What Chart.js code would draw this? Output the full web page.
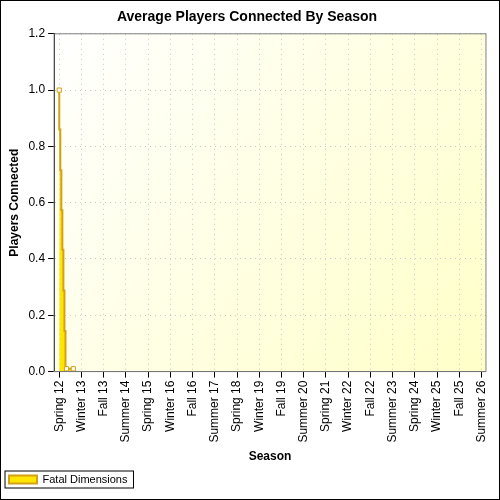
<!DOCTYPE html>
<html>
<head>
<script src="https://cdn.jsdelivr.net/npm/chart.js@4"></script>
<style>
  body { margin: 0; background: #fff; }
  #wrap { width: 498px; height: 498px; border: 1px solid #000; }
</style>
</head>
<body>
<div id="wrap"><canvas id="myChart" width="498" height="498"></canvas></div>
<script>
const years = [12,13,14,15,16,17,18,19,20,21,22,23,24,25,26];
// seasons Spring 12 .. Summer 26 (Winter takes the next year's number)
const seasons = [];
years.forEach((y) => {
  seasons.push("Spring " + y, "Summer " + y, "Fall " + y, "Winter " + (y + 1));
});
const categories = seasons.slice(0, 58);
const xPos = [0, 0.14, 0.28, 0.42, 0.56, 0.70, 0.84, 0.98, 1.9];
const players = [1.0, 0.86, 0.715, 0.573, 0.433, 0.288, 0.144, 0.01, 0.01];
const markers = [3, 0, 0, 0, 0, 0, 0, 3, 3];

const bgPlugin = {
  id: "bg",
  beforeDraw(chart) {
    const { ctx, chartArea: a } = chart;
    const g = ctx.createLinearGradient(a.left, a.top, a.right, a.bottom);
    g.addColorStop(0, "#ffffff");
    g.addColorStop(1, "#ffffc8");
    ctx.save();
    ctx.fillStyle = g;
    ctx.fillRect(a.left, a.top, a.right - a.left, a.bottom - a.top);
    ctx.restore();
  },
  afterDraw(chart) {
    const { ctx, chartArea: a, legend } = chart;
    ctx.save();
    ctx.strokeStyle = "#808080";
    ctx.strokeRect(a.left, a.top, a.right - a.left, a.bottom - a.top);
    // box around legend
    ctx.strokeStyle = "#000";
    const it = legend.legendHitBoxes[0];
    ctx.strokeRect(it.left - 4, it.top - 3, it.width + 10, it.height + 6);
    ctx.restore();
  },
};

new Chart(document.getElementById("myChart"), {
  type: "line",
  data: {
    datasets: [
      {
        label: "Fatal Dimensions",
        data: xPos.map((x, i) => ({ x: x, y: players[i] })),
        stepped: "after",
        fill: "origin",
        backgroundColor: "#ffe600",
        borderColor: "#d4a017",
        borderWidth: 2,
        pointStyle: "rect",
        pointRadius: markers,
        pointBackgroundColor: "#ffffff",
        pointBorderColor: "#d4a017",
        pointBorderWidth: 1,
      },
    ],
  },
  plugins: [bgPlugin],
  options: {
    responsive: false,
    animation: false,
    layout: { padding: { right: 8, left: 2, bottom: 4 } },
    plugins: {
      title: {
        display: true,
        text: "Average Players Connected By Season",
        font: { family: "Liberation Sans", size: 14, weight: "bold" },
        color: "#000",
        padding: { top: 8, bottom: 8 },
      },
      legend: {
        position: "bottom",
        align: "start",
        labels: {
          font: { family: "Liberation Sans", size: 11 },
          color: "#000",
          boxWidth: 28,
          boxHeight: 8,
          padding: 6,
        },
      },
      tooltip: { enabled: false },
    },
    scales: {
      x: {
        type: "linear",
        min: -0.7,
        max: 57.6,
        afterBuildTicks(axis) {
          const t = [];
          for (let i = 0; i < categories.length; i += 3) t.push({ value: i });
          axis.ticks = t;
        },
        ticks: {
          callback: (v) => categories[v],
          minRotation: 90,
          maxRotation: 90,
          autoSkip: false,
          font: { family: "Liberation Sans", size: 12 },
          color: "#000",
        },
        grid: { color: "#c8c8c8", tickColor: "#000", tickLength: 6 },
        border: { color: "#000", dash: [1, 4] },
        title: {
          display: true,
          text: "Season",
          font: { family: "Liberation Sans", size: 12, weight: "bold" },
          color: "#000",
        },
      },
      y: {
        min: 0,
        max: 1.2,
        ticks: {
          stepSize: 0.2,
          callback: (v) => v.toFixed(1),
          font: { family: "Liberation Sans", size: 12 },
          color: "#000",
        },
        grid: { color: "#c8c8c8", tickColor: "#000", tickLength: 6 },
        border: { color: "#000", dash: [1, 4] },
        title: {
          display: true,
          text: "Players Connected",
          font: { family: "Liberation Sans", size: 12, weight: "bold" },
          color: "#000",
        },
      },
    },
  },
});
</script>
</body>
</html>
